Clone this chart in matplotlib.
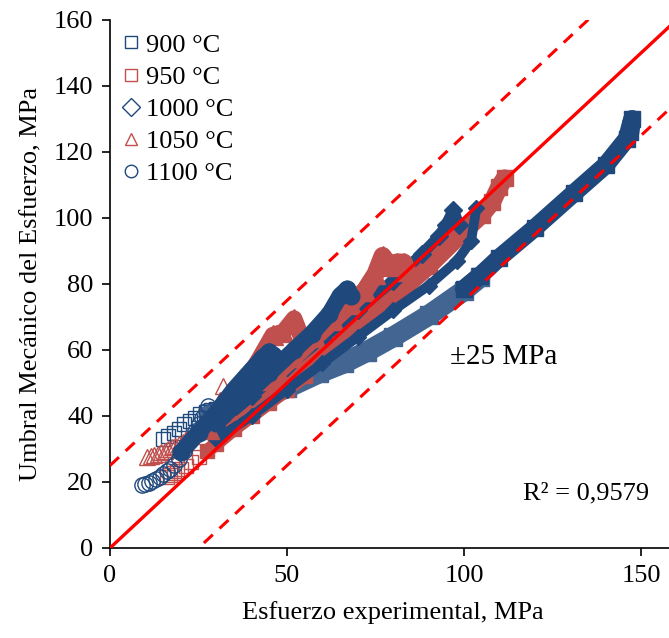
import matplotlib

matplotlib.use("Agg")
import matplotlib.pyplot as plt
from matplotlib.lines import Line2D

plt.rcParams["font.family"] = ["Liberation Serif", "DejaVu Serif"]

BLUE = "#1F497D"
BLUE_HATCH = "#426591"
RED = "#C0504D"
LINE_RED = "#FF0000"

# values (experimental stress, predicted threshold), MPa
# 1100 °C, circles
c1100_a_x = [9, 10, 11, 12, 13, 14, 15, 16, 17, 18, 19.5, 21, 22.5, 24, 25, 26, 27, 27.7]
c1100_a_y = [19, 19.3, 19.8, 20.3, 21, 21.6, 22.3, 23.2, 24, 25.2, 27, 29.5, 32.5, 35.5, 37.5, 39.5, 41.5, 43]
c1100_b_x = [20, 25, 30, 35, 40, 43, 45, 46]
c1100_b_y = [29, 35, 41, 48, 54, 57.5, 59.5, 58.5]
c1100_c_x = [30, 38, 45, 52, 57, 62, 65, 67, 68]
c1100_c_y = [38, 46, 53, 60, 65, 71, 76.5, 78.5, 76.5]

# 1050 °C, triangles
c1050_a_x = [10.5, 11.5, 12.5, 13.5, 14.5, 15.5, 16.5, 17.5, 18.5, 19.5, 20.5, 21.5, 23, 25, 27, 29, 31, 32, 33.5]
c1050_a_y = [27.5, 27.8, 28.2, 28.6, 29, 29.5, 30, 30.5, 31, 31.6, 32.2, 33, 34, 36, 38.5, 41.5, 45, 49, 46]
c1050_b_x = [28, 33, 38, 42, 46, 49, 52, 54]
c1050_b_y = [36, 42, 50, 57, 64.5, 65.5, 69.5, 64]
c1050_c_x = [45, 52, 58, 63, 68, 72, 75, 77, 79, 81, 83, 84]
c1050_c_y = [51, 58, 64, 69, 74, 78, 83, 88.5, 85.5, 86.5, 86.5, 84]

# 1000 °C, diamonds
c1000_a_x = [30, 40, 50, 60, 70, 80, 88, 93, 95, 97, 98.5]
c1000_a_y = [37, 46, 55, 63.5, 72, 81, 89, 94.5, 98, 102.5, 98]
c1000_b_x = [30, 40, 50, 60, 70, 80, 90, 98, 102, 103.5]
c1000_b_y = [33, 40, 48, 56, 64, 72, 79.5, 87, 93, 103]

# 950 °C, squares
c950_a_x = [16, 17, 18, 19, 20, 21.5, 23, 25, 27.5, 30, 35, 40, 45, 50, 55]
c950_a_y = [21.5, 22, 22.7, 23.3, 24, 25, 26, 27.5, 29.5, 31.5, 36, 40, 44, 48, 52]
c950_b_x = [30, 40, 50, 60, 70, 80, 90, 100, 105, 108, 110, 111.5]
c950_b_y = [35, 43, 51, 59, 67.5, 76, 85.5, 96, 101, 105, 109.5, 112]

# 900 °C, squares
c900_a_x = [15, 16.5, 18, 19.5, 21, 22.5, 24, 25.5, 27, 28.5, 30]
c900_a_y = [33, 34, 35, 36, 37.5, 38.5, 39.5, 40.5, 41.2, 41.8, 42.2]
c900_b_x = [28, 32, 40, 50, 59, 66, 72.5, 80, 90, 100, 104.5]
c900_b_y = [40, 41.5, 44.5, 48.5, 53, 56, 59.5, 64, 70.5, 78, 82]
c900_c_x = [100, 104.5, 110, 120, 131, 140, 146, 147.5, 147]
c900_c_y = [78.5, 82.5, 88, 97, 107.5, 116, 124, 130, 126]

# reference lines
ref_x = [0, 160]
ref_y = [0, 160]
band = 25

legend_labels = ["900 °C", "950 °C", "1000 °C", "1050 °C", "1100 °C"]
legend_markers = ["s", "s", "D", "^", "o"]
legend_colors = [BLUE, RED, BLUE, RED, BLUE]


def open_points(ax, x, y, color, marker, size):
    ax.plot(x, y, linestyle="none", marker=marker, ms=size, mfc="none", mec=color, mew=1.0)


def band_curve(ax, x, y, color, marker, width, size):
    ax.plot(x, y, color=color, lw=width, solid_capstyle="round", solid_joinstyle="round",
            marker=marker, ms=size, mfc=color, mec=color)


fig = plt.figure(figsize=(6.69, 6.38), dpi=100)
ax = fig.add_axes([110 / 669, 90 / 638, 566.4 / 669, 528 / 638])

# 900 °C
open_points(ax, c900_a_x, c900_a_y, BLUE, "s", 10)
band_curve(ax, c900_b_x, c900_b_y, BLUE_HATCH, "s", 15, 13)
band_curve(ax, c900_c_x, c900_c_y, BLUE, "s", 13, 12)
# 950 °C
open_points(ax, c950_a_x, c950_a_y, RED, "s", 10)
band_curve(ax, c950_a_x[8:], c950_a_y[8:], RED, "s", 10, 9)
band_curve(ax, c950_b_x, c950_b_y, RED, "s", 13, 12)
# 1000 °C
band_curve(ax, c1000_b_x, c1000_b_y, BLUE, "D", 7, 8)
band_curve(ax, c1000_a_x, c1000_a_y, BLUE, "D", 8, 9)
# 1050 °C
open_points(ax, c1050_a_x, c1050_a_y, RED, "^", 11)
band_curve(ax, c1050_b_x, c1050_b_y, RED, "^", 12, 15)
band_curve(ax, c1050_c_x, c1050_c_y, RED, "^", 13, 15)
# 1100 °C
open_points(ax, c1100_a_x, c1100_a_y, BLUE, "o", 11)
band_curve(ax, c1100_b_x, c1100_b_y, BLUE, "o", 12, 12)
band_curve(ax, c1100_c_x, c1100_c_y, BLUE, "o", 12, 12)

ax.plot(ref_x, ref_y, color=LINE_RED, lw=2.4, zorder=5)
ax.plot(ref_x, [v + band for v in ref_y], color=LINE_RED, lw=2.2, dashes=(4, 3), zorder=5)
ax.plot(ref_x, [v - band for v in ref_y], color=LINE_RED, lw=2.2, dashes=(4, 3), zorder=5)

ax.set_xlim(0, 160)
ax.set_ylim(0, 160)
ax.set_xticks([0, 50, 100, 150])
ax.set_yticks(range(0, 161, 20))
ax.spines["top"].set_visible(False)
ax.spines["right"].set_visible(False)
for side in ("left", "bottom"):
    ax.spines[side].set_linewidth(1.2)
ax.tick_params(direction="out", length=6, width=1.2, labelsize=19, pad=6)

ax.set_xlabel("Esfuerzo experimental, MPa", fontsize=19, labelpad=10)
ax.set_ylabel("Umbral Mecánico del Esfuerzo, MPa", fontsize=19, labelpad=8)

ax.text(111.3, 57.9, "±25 MPa", fontsize=21, ha="center", va="center")
ax.text(134.5, 16.4, "R² = 0,9579", fontsize=19, ha="center", va="center")

handles = [Line2D([], [], linestyle="none", marker=m, ms=9, mfc="none", mec=c, mew=1.0)
           for m, c in zip(legend_markers, legend_colors)]
ax.legend(handles, legend_labels, loc="upper left", bbox_to_anchor=(0.0, 1.0), frameon=False,
          fontsize=19, handlelength=0.6, handletextpad=0.25, labelspacing=0.33, borderaxespad=0.1)

fig.savefig("out.png", dpi=100)
